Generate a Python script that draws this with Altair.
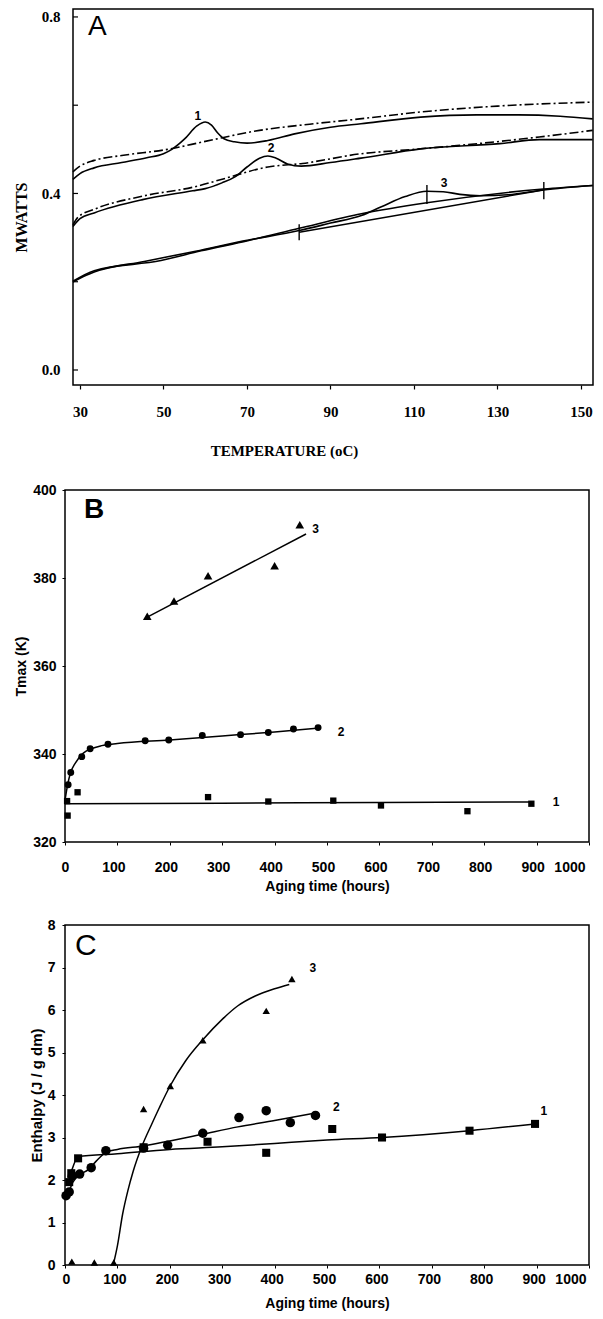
import altair as alt
import pandas as pd

SERIF = "Liberation Serif"
SANS = "Liberation Sans"

# ---------------- Panel A : DSC thermograms ----------------
a_x_ticks = [30, 50, 70, 90, 110, 130, 150]
a_y_labels = [0.0, 0.4, 0.8]
a_y_ticks = [0.0, 0.2, 0.4, 0.6, 0.8]

a1_scan_t = [28.3, 30, 33.4, 40, 46, 50, 52, 55, 58, 60, 61.5, 63, 64.5, 67, 70, 75, 81.4, 90, 97.3, 111.6, 125, 135, 145, 152.8]
a1_scan_v = [0.432, 0.445, 0.458, 0.47, 0.481, 0.49, 0.5, 0.523, 0.553, 0.562, 0.555, 0.537, 0.524, 0.517, 0.514, 0.52, 0.535, 0.55, 0.558, 0.573, 0.578, 0.578, 0.575, 0.569]
a1_rescan_t = [28.3, 30, 33.4, 40, 51, 60, 73, 85, 97, 112, 130, 152.8]
a1_rescan_v = [0.449, 0.462, 0.475, 0.486, 0.5, 0.518, 0.543, 0.557, 0.569, 0.585, 0.598, 0.607]

a2_scan_t = [28.3, 30, 33.4, 45, 57, 60, 64, 67, 70, 73, 75, 77, 79.7, 83, 90, 97.3, 111.6, 130.6, 140, 152.8]
a2_scan_v = [0.325, 0.343, 0.356, 0.386, 0.406, 0.411, 0.424, 0.437, 0.46, 0.48, 0.485, 0.48, 0.467, 0.462, 0.47, 0.48, 0.501, 0.513, 0.522, 0.522]
a2_rescan_t = [28.3, 29.5, 33.4, 45, 57.4, 64.3, 75, 83.3, 97.3, 110, 121, 140, 152.8]
a2_rescan_v = [0.329, 0.346, 0.364, 0.394, 0.415, 0.433, 0.46, 0.468, 0.49, 0.5, 0.509, 0.528, 0.543]

a3_scan_t = [28.3, 30, 33.4, 45.4, 57.7, 69, 82.5, 90, 97.4, 102.2, 107.9, 113.1, 117, 121, 126, 132.5, 141, 152.8]
a3_scan_v = [0.199, 0.208, 0.222, 0.246, 0.269, 0.292, 0.316, 0.333, 0.35, 0.37, 0.393, 0.405, 0.404, 0.398, 0.395, 0.397, 0.408, 0.418]
a3_rescan_t = [28.3, 33.4, 49.4, 59, 70.2, 82.5, 97.4, 113.1, 141, 152.8]
a3_rescan_v = [0.201, 0.225, 0.248, 0.27, 0.293, 0.321, 0.354, 0.379, 0.41, 0.418]
a3_base_t = [82.5, 141.0]
a3_base_v = [0.312, 0.408]
a3_mark_t = [82.5, 113.1, 141.1]
a3_mark_lo = [0.294, 0.376, 0.387]
a3_mark_hi = [0.33, 0.419, 0.426]

a_lab_t = [58.2, 75.8, 117.2]
a_lab_v = [0.576, 0.503, 0.424]
a_lab_txt = ["1", "2", "3"]

# ---------------- Panel B : Tmax vs aging time ----------------
b_x_ticks = [0, 100, 200, 300, 400, 500, 600, 700, 800, 900, 1000]
b_y_ticks = [320, 340, 360, 380, 400]

b1_sq_h = [4, 5, 24, 273, 388, 512, 603, 768, 890]
b1_sq_k = [329.3, 326.0, 331.3, 330.2, 329.2, 329.4, 328.3, 327.0, 328.7]
b1_fit_h = [0, 300, 600, 890]
b1_fit_k = [328.7, 328.8, 329.0, 329.1]

b2_ci_h = [6, 11, 32, 48, 82, 153, 198, 262, 335, 388, 436, 483]
b2_ci_k = [333.0, 335.8, 339.4, 341.2, 342.2, 343.0, 343.2, 344.2, 344.4, 344.9, 345.7, 346.0]
b2_fit_h = [0, 5, 10, 20, 35, 50, 70, 100, 200, 300, 400, 486]
b2_fit_k = [329.5, 333.0, 335.5, 338.0, 340.2, 341.2, 341.9, 342.4, 343.2, 344.1, 345.0, 345.9]

b3_tr_h = [157, 208, 273, 400, 448]
b3_tr_k = [371.3, 374.8, 380.5, 382.8, 392.1]
b3_fit_h = [157, 460]
b3_fit_k = [371.1, 390.0]

b_lab_h = [937, 527, 478]
b_lab_k = [329.1, 344.9, 391.1]
b_lab_txt = ["1", "2", "3"]

# ---------------- Panel C : Enthalpy vs aging time ----------------
c_x_ticks = [0, 100, 200, 300, 400, 500, 600, 700, 800, 900, 1000]
c_y_ticks = [0, 1, 2, 3, 4, 5, 6, 7, 8]

c1_sq_h = [8, 12, 25, 150, 272, 384, 510, 605, 772, 897]
c1_sq_e = [1.95, 2.16, 2.51, 2.77, 2.9, 2.64, 3.2, 3.0, 3.16, 3.32]
c1_fit_h = [5, 10, 25, 100, 200, 300, 400, 500, 605, 772, 897]
c1_fit_e = [2.05, 2.15, 2.55, 2.62, 2.72, 2.78, 2.86, 2.94, 3.0, 3.16, 3.32]

c2_ci_h = [2, 8, 14, 28, 50, 78, 150, 196, 263, 332, 384, 430, 478]
c2_ci_e = [1.63, 1.72, 2.1, 2.14, 2.29, 2.69, 2.75, 2.82, 3.1, 3.47, 3.63, 3.35, 3.52]
c2_fit_h = [0, 8, 15, 28, 45, 60, 78, 100, 150, 200, 263, 330, 400, 480]
c2_fit_e = [1.6, 1.75, 1.95, 2.12, 2.25, 2.45, 2.65, 2.72, 2.8, 2.92, 3.08, 3.25, 3.4, 3.58]

c3_tr_h = [13, 56, 93, 150, 201, 263, 384, 433]
c3_tr_e = [0.08, 0.06, 0.06, 3.67, 4.21, 5.29, 5.98, 6.73]
c3_fit_h = [92, 100, 110, 120, 130, 147, 165, 180, 200, 230, 263, 300, 330, 363, 400, 428]
c3_fit_e = [0.0, 0.45, 1.2, 1.75, 2.2, 2.8, 3.3, 3.7, 4.2, 4.8, 5.3, 5.78, 6.1, 6.33, 6.5, 6.6]

c_lab_h = [914, 518, 473]
c_lab_e = [3.63, 3.71, 6.99]
c_lab_txt = ["1", "2", "3"]


def series(xs, ys, name):
    return pd.DataFrame({"x": xs, "y": ys, "s": [name] * len(xs), "i": list(range(len(xs)))})


def one():
    return pd.DataFrame({"k": [0]})


# ================= Panel A =================
A_W, A_H = 528, 376
AXS = alt.Scale(domain=[26.41, 152.88], nice=False, zero=False)
AYS = alt.Scale(domain=[-0.034, 0.818], nice=False, zero=False)
ax_a_x = alt.Axis(values=a_x_ticks, format="d", labelFont=SERIF, labelFontWeight="bold",
                  labelFontSize=15, labelColor="black", tickColor="black", tickSize=4,
                  tickWidth=1.2, labelPadding=15, domain=False, grid=False,
                  title="TEMPERATURE (oC)", titleFont=SERIF, titleFontWeight="bold",
                  titleFontSize=15, titleColor="black", titleX=219, titleY=65,
                  titleBaseline="middle", titleAlign="center", titleAngle=0)
ax_a_y = alt.Axis(values=a_y_labels, format=".1f", labelFont=SERIF, labelFontWeight="bold",
                  labelFontSize=15, labelColor="black", ticks=False, tickSize=0,
                  labelPadding=5, domain=False, grid=False, title="MWATTS",
                  titleFont=SERIF, titleFontWeight="bold", titleFontSize=16,
                  titleColor="black", titleX=-44, titleY=208, titleAngle=270,
                  titleBaseline="middle", titleAlign="center")


def AX(f="x"):
    return alt.X(f + ":Q", scale=AXS, axis=ax_a_x)


def AY(f="y"):
    return alt.Y(f + ":Q", scale=AYS, axis=ax_a_y)


a_frame = alt.Chart(one()).mark_rect(filled=False, stroke="black", strokeWidth=1.5).encode(
    x=alt.value(8), x2=alt.value(A_W), y=alt.value(0), y2=alt.value(A_H))
a_yt = alt.Chart(pd.DataFrame({"y": a_y_ticks})).mark_rule(color="black", strokeWidth=1.2).encode(
    y=AY(), x=alt.value(8), x2=alt.value(13))
a_solid_df = pd.concat([series(a1_scan_t, a1_scan_v, "1"), series(a2_scan_t, a2_scan_v, "2"),
                        series(a3_scan_t, a3_scan_v, "3"), series(a3_rescan_t, a3_rescan_v, "3r")])
a_dash_df = pd.concat([series(a1_rescan_t, a1_rescan_v, "1r"), series(a2_rescan_t, a2_rescan_v, "2r")])
a_solid = alt.Chart(a_solid_df).mark_line(color="black", strokeWidth=1.6, interpolate="monotone").encode(
    x=AX(), y=AY(), detail="s:N", order="i:Q")
a_dash = alt.Chart(a_dash_df).mark_line(color="black", strokeWidth=1.6, interpolate="monotone",
                                         strokeDash=[9, 3, 2, 3]).encode(
    x=AX(), y=AY(), detail="s:N", order="i:Q")
a_base = alt.Chart(series(a3_base_t, a3_base_v, "b")).mark_line(color="black", strokeWidth=1.4).encode(
    x=AX(), y=AY(), order="i:Q")
a_marks = alt.Chart(pd.DataFrame({"x": a3_mark_t, "y": a3_mark_lo, "y2": a3_mark_hi})).mark_rule(
    color="black", strokeWidth=1.4).encode(x=AX(), y=AY(), y2="y2:Q")
a_labels = alt.Chart(pd.DataFrame({"x": a_lab_t, "y": a_lab_v, "t": a_lab_txt})).mark_text(
    font=SANS, fontWeight="bold", fontSize=12, color="black").encode(x=AX(), y=AY(), text="t:N")
a_letter = alt.Chart(one()).mark_text(text="A", font=SANS, fontSize=28, color="black",
                                      align="left", baseline="middle").encode(
    x=alt.value(23), y=alt.value(18))
panelA = alt.layer(a_frame, a_yt, a_dash, a_solid, a_base, a_marks, a_labels, a_letter).properties(
    width=A_W, height=A_H, view=alt.ViewBackground(stroke="transparent"))

# ================= Panel B =================
B_W, B_H = 524, 352
BXS = alt.Scale(domain=[0, 1000], nice=False, zero=False)
BYS = alt.Scale(domain=[320, 400], nice=False, zero=False)
ax_b_x = alt.Axis(values=b_x_ticks, format="d", labelFont=SANS, labelFontWeight="bold",
                  labelFontSize=14, labelColor="black", tickColor="black", tickSize=3,
                  labelPadding=15, labelOffset=-4, domain=False, grid=False,
                  title="Aging time (hours)", titleFont=SANS, titleFontWeight="bold",
                  titleFontSize=14, titleColor="black", titleX=B_W / 2, titleY=44,
                  titleBaseline="middle", titleAlign="center", titleAngle=0)
ax_b_y = alt.Axis(values=b_y_ticks, format="d", labelFont=SANS, labelFontWeight="bold",
                  labelFontSize=14, labelColor="black", tickColor="black", tickSize=3,
                  labelPadding=6, domain=False, grid=False, title="Tmax (K)",
                  titleFont=SANS, titleFontWeight="bold", titleFontSize=14,
                  titleColor="black", titleX=-44, titleY=B_H / 2, titleAngle=270,
                  titleBaseline="middle", titleAlign="center")


def BX(f="x"):
    return alt.X(f + ":Q", scale=BXS, axis=ax_b_x)


def BY(f="y"):
    return alt.Y(f + ":Q", scale=BYS, axis=ax_b_y)


b_fit_df = pd.concat([series(b1_fit_h, b1_fit_k, "1"), series(b2_fit_h, b2_fit_k, "2"),
                      series(b3_fit_h, b3_fit_k, "3")])
b_fit = alt.Chart(b_fit_df).mark_line(color="black", strokeWidth=1.5, interpolate="monotone").encode(
    x=BX(), y=BY(), detail="s:N", order="i:Q")
b_sq = alt.Chart(series(b1_sq_h, b1_sq_k, "1")).mark_point(
    shape="square", filled=True, color="black", opacity=1, size=40).encode(x=BX(), y=BY())
b_ci = alt.Chart(series(b2_ci_h, b2_ci_k, "2")).mark_point(
    shape="circle", filled=True, color="black", opacity=1, size=48).encode(x=BX(), y=BY())
b_tr = alt.Chart(series(b3_tr_h, b3_tr_k, "3")).mark_point(
    shape="triangle-up", filled=True, color="black", opacity=1, size=75).encode(x=BX(), y=BY())
b_labels = alt.Chart(pd.DataFrame({"x": b_lab_h, "y": b_lab_k, "t": b_lab_txt})).mark_text(
    font=SANS, fontWeight="bold", fontSize=12, color="black").encode(x=BX(), y=BY(), text="t:N")
b_letter = alt.Chart(one()).mark_text(text="B", font=SANS, fontWeight="bold", fontSize=28,
                                      color="black", align="left", baseline="middle").encode(
    x=alt.value(19), y=alt.value(20))
panelB = alt.layer(b_fit, b_sq, b_ci, b_tr, b_labels, b_letter).properties(
    width=B_W, height=B_H, view=alt.ViewBackground(stroke="black", strokeWidth=1.5))

# ================= Panel C =================
C_W, C_H = 524, 340
CXS = alt.Scale(domain=[0, 1000], nice=False, zero=False)
CYS = alt.Scale(domain=[0, 8], nice=False, zero=False)
ax_c_x = alt.Axis(values=c_x_ticks, format="d", labelFont=SANS, labelFontWeight="bold",
                  labelFontSize=14, labelColor="black", tickColor="black", tickSize=3,
                  labelPadding=4, labelOffset=-3, domain=False, grid=False,
                  title="Aging time (hours)", titleFont=SANS, titleFontWeight="bold",
                  titleFontSize=14, titleColor="black", titleX=C_W / 2, titleY=38,
                  titleBaseline="middle", titleAlign="center", titleAngle=0)
ax_c_y = alt.Axis(values=c_y_ticks, format="d", labelFont=SANS, labelFontWeight="bold",
                  labelFontSize=14, labelColor="black", tickColor="black", tickSize=3,
                  labelPadding=7, domain=False, grid=False, title="Enthalpy (J / g dm)",
                  titleFont=SANS, titleFontWeight="bold", titleFontSize=15,
                  titleColor="black", titleX=-29, titleY=C_H / 2, titleAngle=270,
                  titleBaseline="middle", titleAlign="center")


def CX(f="x"):
    return alt.X(f + ":Q", scale=CXS, axis=ax_c_x)


def CY(f="y"):
    return alt.Y(f + ":Q", scale=CYS, axis=ax_c_y)


c_fit_df = pd.concat([series(c1_fit_h, c1_fit_e, "1"), series(c2_fit_h, c2_fit_e, "2"),
                      series(c3_fit_h, c3_fit_e, "3")])
c_fit = alt.Chart(c_fit_df).mark_line(color="black", strokeWidth=1.5, interpolate="monotone").encode(
    x=CX(), y=CY(), detail="s:N", order="i:Q")
c_sq = alt.Chart(series(c1_sq_h, c1_sq_e, "1")).mark_point(
    shape="square", filled=True, color="black", opacity=1, size=65).encode(x=CX(), y=CY())
c_ci = alt.Chart(series(c2_ci_h, c2_ci_e, "2")).mark_point(
    shape="circle", filled=True, color="black", opacity=1, size=90).encode(x=CX(), y=CY())
c_tr = alt.Chart(series(c3_tr_h, c3_tr_e, "3")).mark_point(
    shape="triangle-up", filled=True, color="black", opacity=1, size=55).encode(x=CX(), y=CY())
c_labels = alt.Chart(pd.DataFrame({"x": c_lab_h, "y": c_lab_e, "t": c_lab_txt})).mark_text(
    font=SANS, fontWeight="bold", fontSize=12, color="black").encode(x=CX(), y=CY(), text="t:N")
c_letter = alt.Chart(one()).mark_text(text="C", font=SANS, fontSize=30, color="black",
                                      align="left", baseline="middle").encode(
    x=alt.value(10), y=alt.value(21))
panelC = alt.layer(c_fit, c_sq, c_ci, c_tr, c_labels, c_letter).properties(
    width=C_W, height=C_H, view=alt.ViewBackground(stroke="black", strokeWidth=1.5))

chart = alt.vconcat(panelA, panelB, panelC, spacing=23).properties(
    padding={"left": 12, "top": 7, "right": 2, "bottom": 2},
    background="white",
)

chart.save("out.html", embed_options={"renderer": "svg", "actions": False})
